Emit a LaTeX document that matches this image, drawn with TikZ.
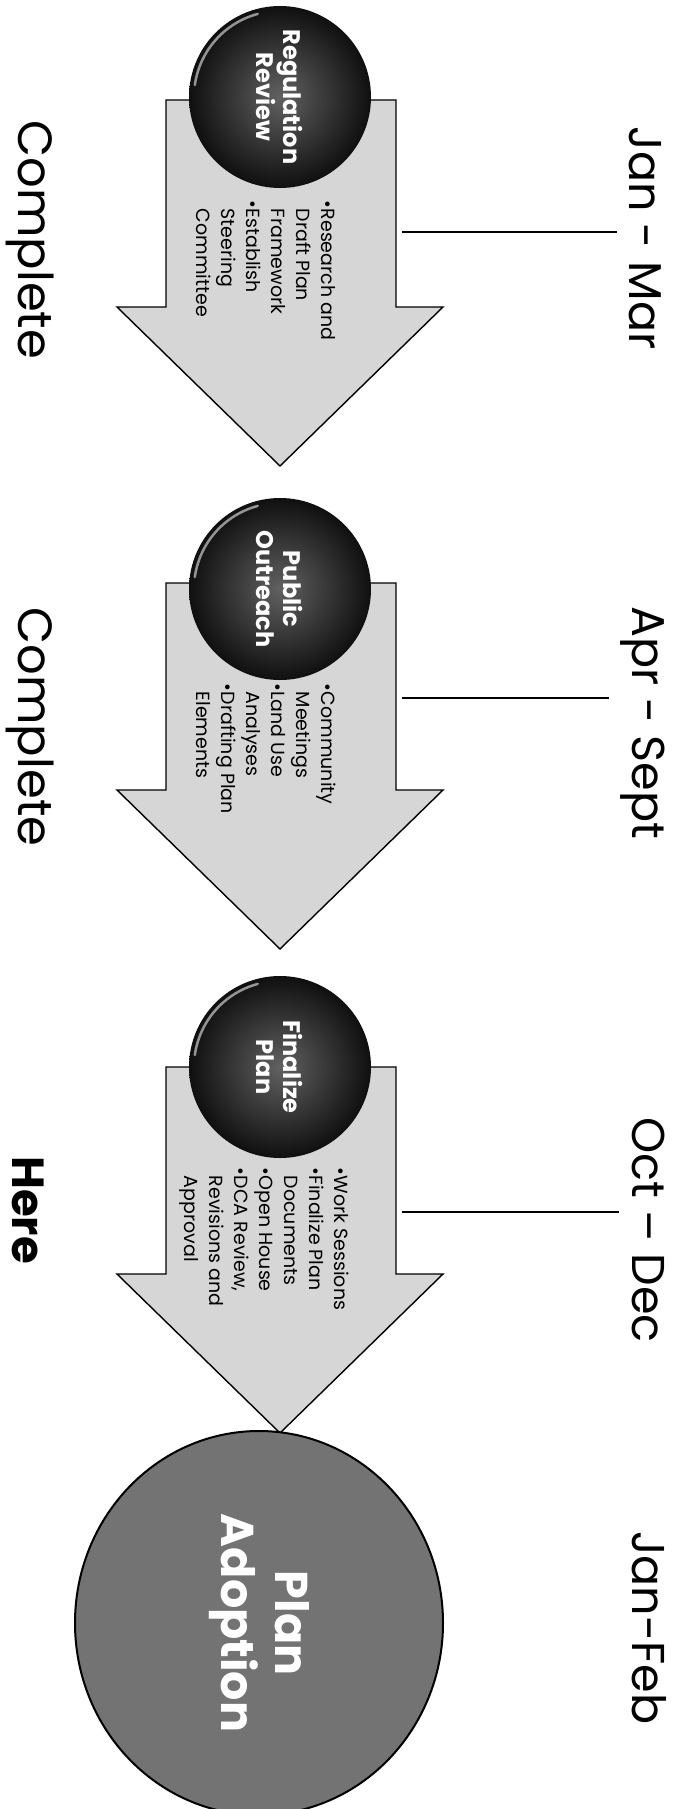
\documentclass[tikz,border=0pt]{standalone}
\usepackage{fontspec}
\setmainfont{Poppins}
\usetikzlibrary{shapes.geometric}
\newcommand\bul{\makebox[0.45em][l]{\textbullet}}
\newcommand\nobul{\hphantom{\bul}}
\begin{document}
\begin{tikzpicture}[x=1pt,y=-1pt]
\useasboundingbox (0,0) rectangle (675,1809);
\tikzset{
  arrowbody/.style={draw=black, line width=1.4pt, fill=black!16, line join=miter},
  phase/.style={circle, minimum size=182pt, inner sep=0pt, inner color=black!62, outer color=black!94,
     text=white, align=center, rotate=-90, font=\bfseries\fontsize{24}{27}\selectfont},
  bullets/.style={rotate=-90, anchor=west, align=left, inner sep=0pt, font=\fontsize{19}{25}\selectfont},
  datelabel/.style={rotate=-90, inner sep=12pt, font=\fontsize{46}{52}\selectfont},
  status/.style={rotate=-90, inner sep=0pt, font=\fontsize{48}{54}\selectfont},
  tick/.style={draw=black, line width=1.2pt},
  gloss/.style={draw=white, line width=2.5pt, line cap=round, opacity=0.55}
}
% arrows
\foreach \t in {100,583,1067}{
  \draw[arrowbody] (166,\t) -- (396,\t) -- (396,\t+207) -- (443,\t+207) -- (280,\t+366)
     -- (117,\t+207) -- (166,\t+207) -- cycle;
}
% phase circles
\node[phase] (c1) at (280,97) {Regulation\\Review};
\node[phase] (c2) at (280,589) {Public\\Outreach};
\node[phase] (c3) at (280,1067) {Finalize\\Plan};
\foreach \c in {c1,c2,c3}{
  \draw[gloss] (\c.center) ++(172:86pt) arc[start angle=172, end angle=105, radius=86pt];
}
% final ellipse
\node[ellipse, minimum width=384pt, minimum height=368pt, inner sep=0pt, draw=black, line width=2pt,
      fill=black!55, text=white, align=center, rotate=-90,
      font=\bfseries\fontsize{46}{54}\selectfont] (adopt) at (259,1623) {Plan\\Adoption};
% bullet texts
\node[bullets] (b1) at (266,200) {\bul Research and\\\nobul Draft Plan\\\nobul Framework\\\bul Establish\\\nobul Steering\\\nobul Committee};
\node[bullets] (b2) at (266,683) {\bul Community\\\nobul Meetings\\\bul Land Use\\\nobul Analyses\\\bul Drafting Plan\\\nobul Elements};
\node[bullets] (b3) at (264,1167) {\bul Work Sessions\\\bul Finalize Plan\\\nobul Documents\\\bul Open House\\\bul DCA Review,\\\nobul Revisions and\\\nobul Approval};
% dates
\node[datelabel] (d1) at (645,238) {Jan - Mar};
\node[datelabel] (d2) at (643,723) {Apr - Sept};
\node[datelabel] (d3) at (648,1230) {Oct – Dec};
\node[datelabel] (d4) at (649,1628) {Jan-Feb};
% status
\node[status] (s1) at (30,240) {Complete};
\node[status] (s2) at (30,727) {Complete};
\node[status, font=\bfseries\fontsize{45}{50}\selectfont] (s3) at (28,1210) {Here};
% connectors
\coordinate (t1) at (402,232);
\coordinate (t2) at (402,698);
\coordinate (t3) at (402,1212);
\draw[tick] (t1) -- (t1 -| d1.south);
\draw[tick] (t2) -- (t2 -| d2.south);
\draw[tick] (t3) -- (t3 -| d3.south);
\draw[tick] (adopt.east) -- (adopt.east -| d4.south);
\end{tikzpicture}
\end{document}
